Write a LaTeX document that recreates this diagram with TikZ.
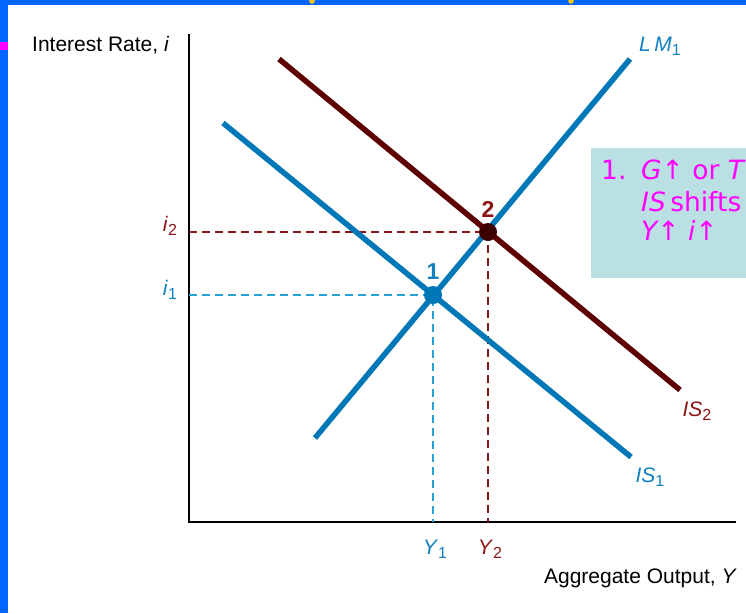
\documentclass[tikz,border=0pt]{standalone}
\usepackage{fontspec}
\setmainfont{Liberation Sans}
\newfontfamily\boxfont{DejaVu Sans}
\definecolor{lmblue}{RGB}{0,119,182}
\definecolor{lblblue}{RGB}{16,128,192}
\definecolor{dashblue}{RGB}{40,160,210}
\definecolor{isred}{RGB}{94,0,0}
\definecolor{lbred}{RGB}{140,20,20}
\definecolor{boxbg}{RGB}{187,224,227}
\definecolor{framebl}{RGB}{0,102,255}
\definecolor{mag}{RGB}{255,0,255}
\definecolor{ylw}{RGB}{255,200,0}
\definecolor{ptdark}{RGB}{60,0,0}
\newcommand{\lowsub}[1]{\raisebox{-0.35ex}{\fontsize{16}{16}\selectfont #1}}
\tikzset{
  curve/.style={line width=5.5pt},
  axisline/.style={line width=2pt, black},
  guide/.style={line width=1.4pt, dash pattern=on 8pt off 5pt},
  lbl/.style={font=\fontsize{21}{25}\selectfont, inner sep=0pt},
  ptlbl/.style={font=\fontsize{23}{26}\selectfont\bfseries, inner sep=0pt},
  eqpt/.style={circle, inner sep=0pt, minimum size=18pt},
  boxtxt/.style={font=\boxfont\fontsize{26.5}{30}\selectfont, text=mag, inner sep=0pt, anchor=base west}
}
\begin{document}
\begin{tikzpicture}[x=1pt,y=-1pt]
\useasboundingbox (0,0) rectangle (746,613);
\begin{scope}
\clip (0,0) rectangle (746,613);
\fill[white] (0,0) rectangle (746,613);
% frame
\fill[framebl] (0,0) rectangle (746,4.5);
\fill[framebl] (0,0) rectangle (7.5,613);
\fill[mag] (0,42) rectangle (7.5,50);
\fill[ylw] (312,1) circle (2.8);
\fill[ylw] (571,1) circle (2.8);
% info box
\fill[boxbg] (591,148) rectangle (760,278);
\node[boxtxt] (b1) at (601,179) {1.};
\node[boxtxt] (b2) at (641,179) {\itshape G\upshape↑ or \itshape T};
\node[boxtxt] (b3) at (641,211) {\itshape IS\upshape\,shifts};
\node[boxtxt] (b4) at (641,240) {\itshape Y\upshape↑ \itshape i\upshape↑};
% axes
\coordinate (ytop) at (189,34);
\coordinate (org) at (189,522);
\coordinate (xend) at (736,522);
\draw[axisline] (ytop) -- (org) -- (xend);
\node[lbl, anchor=base west] (ylab) at (32,51) {Interest Rate, \textit{i}};
\node[lbl, anchor=base east] (xlab) at (737,583) {Aggregate Output, \textit{Y}};
% equilibrium points
\coordinate (p1) at (433,295);
\coordinate (p2) at (488,232);
\coordinate (ai1) at (189,295);
\coordinate (ai2) at (189,232);
\coordinate (ay1) at (433,522);
\coordinate (ay2) at (488,522);
\draw[guide, dashblue] (ai1) -- (p1) -- (ay1);
\draw[guide, lbred] (ai2) -- (p2) -- (ay2);
% curves
\coordinate (is1a) at (223,123);
\coordinate (is1b) at (631,457);
\coordinate (is2a) at (279,59);
\coordinate (is2b) at (680,390);
\coordinate (lma) at (315,438);
\coordinate (lmb) at (630,59);
\draw[curve, lmblue] (is1a) -- (is1b);
\draw[curve, isred] (is2a) -- (is2b);
\draw[curve, lmblue] (lma) -- (lmb);
\node[eqpt, fill=lmblue] (n1) at (p1) {};
\node[eqpt, fill=ptdark] (n2) at (p2) {};
\node[ptlbl, text=lblblue] (l1) at (433,272) {1};
\node[ptlbl, text=lbred] (l2) at (488,209) {2};
% labels
\node[lbl, text=lblblue] (lmlab) at (660,46) {\textit{L\,M}\lowsub{1}};
\node[lbl, text=lbred] (is2lab) at (697,411) {\textit{IS}\lowsub{2}};
\node[lbl, text=lblblue] (is1lab) at (650,477) {\textit{IS}\lowsub{1}};
\node[lbl, text=lbred] (i2lab) at (170,226) {\textit{i}\lowsub{2}};
\node[lbl, text=lblblue] (i1lab) at (170,290) {\textit{i}\lowsub{1}};
\node[lbl, text=lblblue] (y1lab) at (435,549) {\textit{Y}\lowsub{1}};
\node[lbl, text=lbred] (y2lab) at (490,549) {\textit{Y}\lowsub{2}};
\end{scope}
\end{tikzpicture}
\end{document}
